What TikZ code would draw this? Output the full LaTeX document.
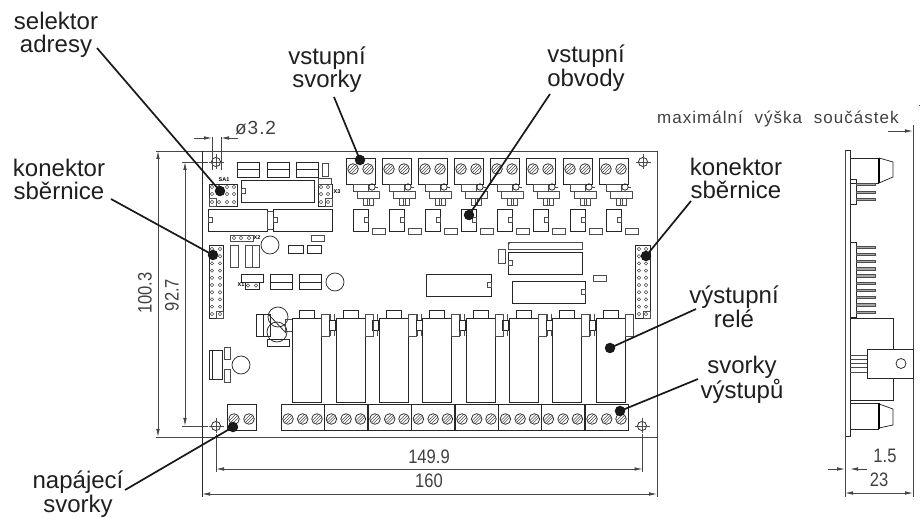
\documentclass[tikz,border=0pt]{standalone}
\usepackage{fontspec}
\usetikzlibrary{arrows.meta}
\setmainfont{Liberation Sans}
\newfontfamily\dimfont[FakeStretch=0.85]{Liberation Sans}
\newfontfamily\holefont[LetterSpace=5]{Liberation Sans}
\newfontfamily\notefont[LetterSpace=6]{Liberation Sans}
\newfontfamily\tinyfont{Liberation Sans}
\definecolor{linegray}{RGB}{70,70,70}
\tikzset{
  part/.style={draw=black!85,line width=0.75pt},
  thinpart/.style={draw=black!70,line width=0.55pt},
  dimline/.style={draw=linegray,line width=0.8pt},
  dimarrow/.style={dimline,{Latex[length=8pt,width=3.6pt]}-{Latex[length=8pt,width=3.6pt]}},
  oneend/.style={dimline,-{Latex[length=8pt,width=3.6pt]}},
  label/.style={font=\fontsize{24}{23.5}\selectfont,align=center,inner sep=0pt,text=black!88},
  dimtext/.style={font=\dimfont\fontsize{19.5}{22}\selectfont,inner sep=0pt,text=black!75},
  silk/.style={font=\tinyfont\bfseries\fontsize{5.5}{6}\selectfont,inner sep=0pt},
  leader/.style={draw=black!90,line width=1.7pt},
  dot/.style={circle,fill=black!90,minimum size=10.5pt,inner sep=0pt},
  screw/.pic={
    \draw[part] (0,0) circle[radius=5.3];
    \draw[thinpart] (-3.7,3.7)--(3.7,-3.7) (-4.7,1.8)--(1.8,-4.7) (-1.8,4.7)--(4.7,-1.8);
  },
  pin/.pic={\draw[thinpart] (0,0) circle[radius=1.7];},
  mount/.pic={
    \draw[part] (0,0) circle[radius=4.6];
    \draw[thinpart] (-7.5,0)--(7.5,0) (0,-7.5)--(0,7.5);
  },
}
\newcommand{\rct}[4]{\draw[part] (#1,#2) rectangle (#3,#4);}
\newcommand{\trct}[4]{\draw[thinpart] (#1,#2) rectangle (#3,#4);}
\begin{document}
\begin{tikzpicture}[x=1pt,y=-1pt]
\useasboundingbox (0,0) rectangle (922,518);

% ---- board outline
\draw[dimline] (156,151)--(657,151);
\draw[dimline] (156,437)--(657,437);
\draw[part] (202,151)--(202,497);
\draw[dimline] (657,151)--(657,497);

% ---- mounting holes
\pic at (216,162) {mount};
\pic at (216,426) {mount};
\pic at (643,162) {mount};
\pic at (642,426) {mount};

% ---- top input terminals and input circuits
\foreach \xx in {346,382,418,454,490,526,563,599}{
\begin{scope}[shift={(\xx,0)}]
  \rct{0}{158}{29}{184}
  \pic at (7,169) {screw};
  \pic at (22,169) {screw};
  \trct{7}{184}{22}{191}
  \draw[part] (26,187) circle[radius=3.2];
  \draw[thinpart] (29,187)--(32,187);
  \trct{11}{191}{33}{198}
  \trct{17}{198}{27}{205}
  \draw[thinpart] (21,198)--(21,205) (23,198)--(23,205);
  \rct{7}{209}{22}{231}
  \trct{18}{217}{22}{222}
  \trct{26}{228}{39}{234}
\end{scope}}

% ---- top-left components
\foreach \xx in {237,267,296}{
  \rct{\xx}{162}{\xx+22}{177}
  \draw[part] (\xx,169)--(\xx+22,169);
}
\trct{322}{163}{328}{176}
\node[silk] (sa) at (224,180) {SA1};
\rct{209}{184}{237}{206}
\trct{209}{198}{216}{206}
\foreach \xx in {212,219,227,234}\foreach \yy in {187,194,202}{\pic at (\xx,\yy) {pin};}
\rct{241}{180}{314}{202}
\trct{241}{188}{245}{193}
\rct{318}{184}{332}{206}
\trct{318}{178}{331}{184}
\trct{325}{198}{332}{206}
\foreach \xx in {321,328}\foreach \yy in {187,194,202}{\pic at (\xx,\yy) {pin};}
\node[silk] (x3) at (337,192) {X3};
\rct{208}{209}{267}{231}
\trct{208}{217}{212}{222}
\trct{267}{211}{273}{229}
\rct{273}{209}{332}{231}
\trct{273}{217}{277}{222}

% ---- left middle
\trct{230}{235}{253}{241}
\foreach \xx in {234,241,249}{\pic at (\xx,238) {pin};}
\node[silk] (x2) at (257,238) {X2};
\trct{311}{235}{324}{241}
\draw[part] (270,245) circle[radius=9];
\rct{288}{245}{303}{253}
\rct{307}{245}{321}{253}
\trct{230}{245}{238}{267}
\trct{245}{245}{252}{267}
\trct{252}{245}{259}{267}
\rct{209}{245}{223}{318}
\trct{216}{311}{223}{318}
\foreach \yy in {249,256.2,263.4,270.6,277.8,285,292.2,299.4,306.6,314}{
  \pic at (212,\yy) {pin};
  \pic at (220,\yy) {pin};
}
\rct{241}{274}{263}{282}
\rct{245}{282}{259}{289}
\pic at (248,285.5) {pin};
\pic at (256,285.5) {pin};
\node[silk] (x1) at (241,285) {X1};
\foreach \xx in {270,299}{
  \rct{\xx}{274}{\xx+22}{289}
  \draw[part] (\xx,282)--(\xx+22,282);
}
\draw[part] (335,282) circle[radius=9];

% ---- coils near first relay
\draw[part] (278,317) circle[radius=10];
\draw[part] (277,332) circle[radius=10];
\rct{256}{314}{270}{336}
\draw[part] (263,314)--(263,336);
\draw[part] (269,315)--(286,333);
\trct{285}{319}{292}{331}
\rct{267}{339}{289}{346}

% ---- lower-left components
\rct{209}{350}{222}{379}
\draw[part] (212,350)--(212,379);
\trct{224}{347}{230}{359}
\trct{224}{369}{230}{382}
\draw[part] (241,365) circle[radius=9];

% ---- power terminal
\rct{227}{404}{256}{430}
\pic at (234,419) {screw};
\pic at (249,419) {screw};

% ---- central ICs
\trct{508}{242}{582}{249}
\draw[thinpart] (508,245)--(511,242);
\rct{508}{252}{582}{274}
\trct{508}{260}{512}{265}
\trct{498}{249}{505}{263}
\rct{426}{274}{491}{296}
\trct{487}{282}{491}{287}
\rct{512}{281}{585}{303}
\trct{581}{289}{585}{294}
\trct{593}{275}{606}{281}

% ---- right connector
\rct{635}{245}{650}{318}
\trct{643}{311}{650}{318}
\foreach \yy in {249,256.2,263.4,270.6,277.8,285,292.2,299.4,306.6,314}{
  \pic at (639,\yy) {pin};
  \pic at (646,\yy) {pin};
}

% ---- relays
\foreach \xx in {292,336,379,422,466,509,552,596}{
\begin{scope}[shift={(\xx,0)}]
  \draw[part] (0,402)--(0,318)--(29,318)--(29,402)--cycle;
  \rct{7}{310}{22}{318}
  \trct{29}{314}{37}{336}
\end{scope}}
\foreach \xx in {329,372,416,459,502,546,589}{
  \rct{\xx}{320}{\xx+6}{330}
  \draw[thinpart] (\xx+1,314)--(\xx+1,320) (\xx+1,330)--(\xx+1,336) (\xx+5,314)--(\xx+5,320) (\xx+5,330)--(\xx+5,336);
}

% ---- output terminals
\foreach \xx in {281,324.4,368,411.4,455,498.4,541.4,585}{
\begin{scope}[shift={(\xx,0)}]
  \rct{0}{404}{43.4}{430}
  \pic at (7,419) {screw};
  \pic at (21.7,419) {screw};
  \pic at (36,419) {screw};
\end{scope}}

% ---- dimensions, front view
\coordinate (hA) at (212,138); \coordinate (hB) at (221,138);
\draw[dimline] (212,137)--(212,170) (221,137)--(221,170);
\draw[oneend] (194,138)--(hA);
\draw[oneend] (238,138)--(hB);
\node[dimtext,font=\holefont\fontsize{19}{22}\selectfont,anchor=west] (t32) at (235,128) {ø3.2};

\coordinate (dA) at (158,151); \coordinate (dB) at (158,437);
\draw[dimarrow] (dA)--(dB);
\node[dimtext,rotate=90] (t1003) at (145,293) {100.3};
\draw[dimline] (182,162)--(208,162) (182,426)--(208,426);
\coordinate (eA) at (185,162); \coordinate (eB) at (185,426);
\draw[dimarrow] (eA)--(eB);
\node[dimtext,rotate=90] (t927) at (172,295) {92.7};

\draw[dimline] (216,434)--(216,472) (642.5,434)--(642.5,472);
\coordinate (fA) at (216,469); \coordinate (fB) at (642.5,469);
\draw[dimarrow] (fA)--(fB);
\node[dimtext] (t1499) at (429,457) {149.9};
\coordinate (gA) at (202,494); \coordinate (gB) at (657,494);
\draw[dimarrow] (gA)--(gB);
\node[dimtext] (t160) at (429,481) {160};

% ---- side view
\draw[part] (845,150)--(850,150)--(850,436)--(845,436);
\draw[dimline] (845,150)--(845,497);
\draw[dimline] (913,125)--(913,497);
\draw[part] (850,158)--(879,158);
\draw[part] (850,183)--(879,183);
\draw[draw=black,line width=1.2pt] (879,158)--(879,183);
\draw[part] (879,158)--(893,162)--(893,177)--(879,183);
\rct{850}{179}{856}{204}
\foreach \yy in {184,192,199}{\draw[thinpart,fill=black!35] (856,\yy-1.2) rectangle (875,\yy+1.2);}
\rct{850}{242}{856}{317}
\foreach \yy in {247,254.2,261.4,268.6,275.8,283,290.2,297.4,304.6,312}{\draw[thinpart,fill=black!35] (856,\yy-1.2) rectangle (875,\yy+1.2);}
\rct{850}{318}{893}{400}
\foreach \yy in {355,359,363,367,372}{\draw[thinpart] (850,\yy)--(867,\yy);}
\draw[part,fill=white] (867,349) rectangle (913,378);
\draw[part] (901,363.5) circle[radius=5];
\draw[part] (850,403)--(879,403) (850,429)--(879,429);
\draw[draw=black,line width=1.2pt] (879,403)--(879,429);
\draw[part] (879,404)--(893,409)--(893,425)--(879,428);

\node[font=\notefont\fontsize{17}{18}\selectfont,inner sep=0pt,anchor=base west,text=black!75] (tnote) at (657,124) {maximální\hspace{6pt} výška\hspace{6pt} součástek};
\coordinate (nA) at (913,131);
\draw[oneend] (888,131)--(nA);
\draw[thinpart] (919,105.5)--(919,106.5);

\coordinate (pA) at (845,469); \coordinate (pB) at (850,469);
\draw[oneend] (828,469)--(pA);
\draw[oneend] (867,469)--(pB);
\node[dimtext] (t15) at (885,456) {1.5};
\coordinate (qA) at (845,493); \coordinate (qB) at (913,493);
\draw[dimarrow] (qA)--(qB);
\node[dimtext] (t23) at (879,480) {23};

% ---- labels
\node[label] (lsel) at (56,35) {selektor\\adresy};
\node[label] (lvs) at (327,69.5) {vstupní\\svorky};
\node[label] (lvo) at (586,68) {vstupní\\obvody};
\node[label] (lkl) at (59,179.5) {konektor\\sběrnice};
\node[label] (lkr) at (736,178.5) {konektor\\sběrnice};
\node[label] (lvr) at (734,307) {výstupní\\relé};
\node[label] (lsv) at (742,379.5) {svorky\\výstupů};
\node[label] (lnap) at (78,494) {napájecí\\svorky};

% ---- leaders with dots
\node[dot] (d1) at (220,191) {};
\node[dot] (d2) at (360,160) {};
\node[dot] (d3) at (469,215) {};
\node[dot] (d4) at (213,255) {};
\node[dot] (d5) at (646,256) {};
\node[dot] (d6) at (610,348) {};
\node[dot] (d7) at (620,411) {};
\node[dot] (d8) at (233,427) {};
\coordinate (s1) at (97,48);
\coordinate (s2) at (334,97);
\coordinate (s3) at (550,94);
\coordinate (s4) at (111,199);
\coordinate (s5) at (691,201);
\coordinate (s6) at (696,309);
\coordinate (s7) at (698,379);
\coordinate (s8) at (125,490);
\foreach \i in {1,...,8}{\draw[leader] (s\i)--(d\i.center);}
\end{tikzpicture}
\end{document}
